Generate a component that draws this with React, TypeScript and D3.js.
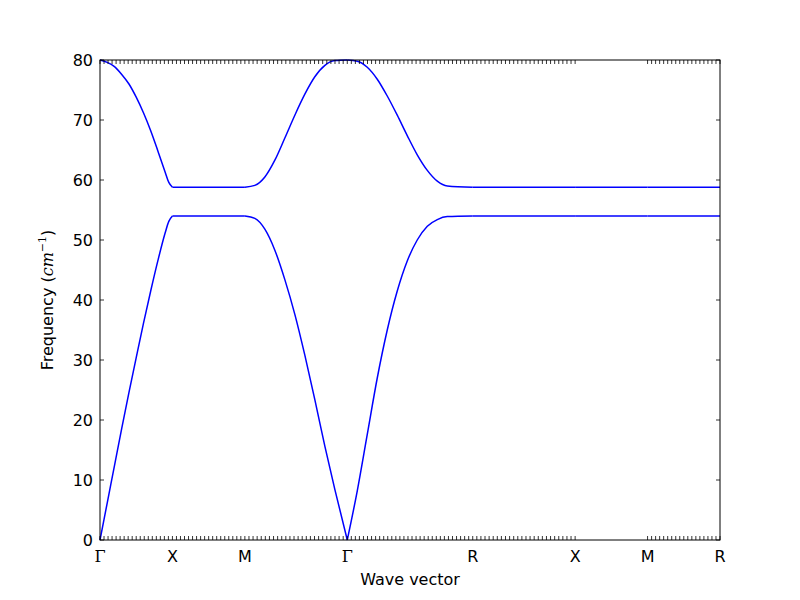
import React from 'react';
import * as d3 from 'd3';

// high-symmetry points along the path (distance in units of 2pi/a)
const symLabels = ['Γ', 'X', 'M', 'Γ', 'R', 'X', 'M', 'R'];
const symDist = [0, 1, 2, 3.414, 5.146, 6.56, 7.56, 8.56];
// number of k-point intervals per segment
const segPoints = [18, 18, 25, 31, 25, 1, 18];

const kSamples = [
  0, 0.1, 0.2, 0.3, 0.4, 0.5, 0.6, 0.7, 0.8, 0.9, 0.95, 1.0,
  2.0,
  2.138, 2.276, 2.414, 2.552, 2.69, 2.828, 2.966, 3.105, 3.243, 3.414,
  3.552, 3.69, 3.828, 3.966, 4.104, 4.242, 4.38, 4.519, 4.657, 4.795, 5.146,
  6.56, 7.56, 8.56,
];
const upperBranch = [
  80, 79.6, 78.9, 77.6, 76.0, 73.8, 71.2, 68.2, 64.8, 61.3, 59.6, 58.8,
  58.8,
  59.1, 60.5, 63.3, 67.0, 70.8, 74.3, 77.2, 79.1, 79.9, 80,
  79.8, 78.8, 76.8, 74.0, 70.8, 67.4, 64.2, 61.6, 59.8, 59.0, 58.8,
  58.8, 58.8, 58.8,
];
const lowerBranch = [
  0, 6.2, 12.4, 18.6, 24.6, 30.4, 36.1, 41.5, 46.6, 51.2, 53.1, 54,
  54,
  53.6, 51.8, 48.3, 43.4, 37.6, 30.8, 23.4, 15.6, 8.4, 0,
  8.2, 17.6, 27.0, 35.0, 41.5, 46.5, 50.0, 52.3, 53.4, 53.9, 54,
  54, 54, 54,
];
const yTicks = [0, 10, 20, 30, 40, 50, 60, 70, 80];

const W = 800;
const H = 600;
const margin = { top: 60, right: 80, bottom: 60, left: 100 };

export default function App() {
  const iw = W - margin.left - margin.right;
  const ih = H - margin.top - margin.bottom;
  const x = d3.scaleLinear().domain([0, symDist[symDist.length - 1]]).range([0, iw]);
  const y = d3.scaleLinear().domain([0, 80]).range([ih, 0]);

  const line = d3.line<[number, number]>()
    .x(d => x(d[0]))
    .y(d => y(d[1]))
    .curve(d3.curveMonotoneX);

  // split each branch at the high-symmetry points so cusps stay sharp
  const segmentPaths = (vals: number[]) => {
    const out: string[] = [];
    for (let s = 0; s < symDist.length - 1; s++) {
      const a = symDist[s], b = symDist[s + 1];
      const pts: [number, number][] = [];
      kSamples.forEach((k, i) => {
        if (k >= a - 1e-6 && k <= b + 1e-6) pts.push([k, vals[i]]);
      });
      if (pts.length > 1) out.push(line(pts) || '');
    }
    return out;
  };

  const kTicks: number[] = [];
  segPoints.forEach((n, s) => {
    const a = symDist[s], b = symDist[s + 1];
    for (let j = 0; j < n; j++) kTicks.push(a + (j * (b - a)) / n);
  });
  kTicks.push(symDist[symDist.length - 1]);

  const font = 'DejaVu Sans, sans-serif';

  return (
    <svg width={W} height={H} style={{ position: 'absolute', left: 0, top: 0, background: '#fff' }}>
      <rect width={W} height={H} fill="#fff" />
      <g transform={`translate(${margin.left},${margin.top})`}>
        {[...segmentPaths(upperBranch), ...segmentPaths(lowerBranch)].map((p, i) => (
          <path key={i} d={p} fill="none" stroke="#0000ff" strokeWidth={1.5} />
        ))}

        {kTicks.map((k, i) => (
          <g key={i}>
            <line x1={x(k)} x2={x(k)} y1={ih} y2={ih - 4} stroke="#000" strokeWidth={0.8} />
            <line x1={x(k)} x2={x(k)} y1={0} y2={4} stroke="#000" strokeWidth={0.8} />
          </g>
        ))}
        {yTicks.map(t => (
          <g key={t}>
            <line x1={0} x2={4} y1={y(t)} y2={y(t)} stroke="#000" strokeWidth={0.8} />
            <line x1={iw} x2={iw - 4} y1={y(t)} y2={y(t)} stroke="#000" strokeWidth={0.8} />
            <text x={-7} y={y(t)} dy="0.36em" textAnchor="end" fontFamily={font} fontSize={16}>{t}</text>
          </g>
        ))}

        {symLabels.map((l, i) => (
          <text key={i} x={x(symDist[i])} y={ih + 22} textAnchor="middle"
            fontFamily={l === 'Γ' ? 'DejaVu Serif, serif' : font} fontSize={16}>{l}</text>
        ))}

        <rect x={0} y={0} width={iw} height={ih} fill="none" stroke="#000" strokeWidth={1} />

        <text x={iw / 2} y={ih + 45} textAnchor="middle" fontFamily={font} fontSize={16}>Wave vector</text>
        <text transform={`translate(-47,${ih / 2}) rotate(-90)`} textAnchor="middle" fontFamily={font} fontSize={16}>
          Frequency (<tspan fontFamily="DejaVu Serif, serif" fontStyle="italic">cm</tspan>
          <tspan fontFamily="DejaVu Serif, serif" fontSize={11} dy={-7}>−1</tspan>
          <tspan dy={7}>)</tspan>
        </text>
      </g>
    </svg>
  );
}
